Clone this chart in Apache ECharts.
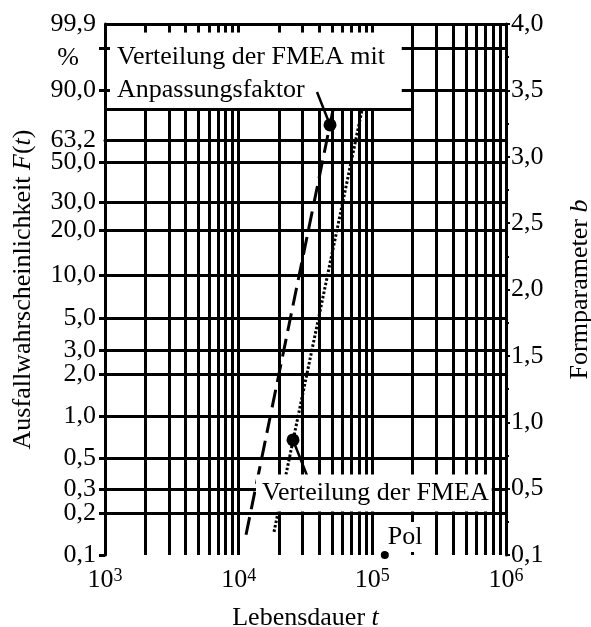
<!DOCTYPE html>
<html><head><meta charset="utf-8">
<script src="https://cdn.jsdelivr.net/npm/echarts@6/dist/echarts.min.js"></script>
<style>html,body{margin:0;padding:0;background:#fff}#c{width:591px;height:627px}</style>
</head><body><div id="c"></div>
<script>
// ---- data ----
const xDecades = [1e3, 1e4, 1e5, 1e6];
const xMultipliers = [1, 2, 3, 4, 5, 6, 7, 8, 9];
const yGridF = [0.2, 0.3, 0.5, 1, 2, 3, 5, 10, 20, 30, 50];
const yUpperGridF = [90, 99];
const yLabelF = [0.1, 0.2, 0.3, 0.5, 1, 2, 3, 5, 10, 20, 30, 50, 63.2, 90, 99.9, 98];
const yLabelText = ['0,1', '0,2', '0,3', '0,5', '1,0', '2,0', '3,0', '5,0', '10,0', '20,0', '30,0', '50,0', '63,2', '90,0', '99,9', '%'];
const yTickF = [0.1, 0.2, 0.3, 0.5, 1, 2, 3, 5, 10, 20, 30, 50, 90, 99];
const bLabels = ['0,1', '0,5', '1,0', '1,5', '2,0', '2,5', '3,0', '3,5', '4,0'];
const fmeaT = [18380, 83680];
const fmeaF = [0.147, 80.8];
const adjT = [11350, 50790];
const adjF = [0.14, 80.8];
const markT = [48240, 25500];
const markF = [72.4, 0.677];
const leader1T = [38550, 48240];
const leader1F = [89.2, 72.4];
const leader2T = [25500, 33010];
const leader2F = [0.677, 0.36];
const polT = [124000];
const polF = [0.1];
const charT = [1e3, 1e6];
const charF = [63.2, 63.2];
const boxF = 81;

// ---- helpers ----
const FONT = 'Liberation Serif';
const W = F => Math.log(-Math.log(1 - F / 100));   // Weibull probability scale
const T_MIN = 1e3, T_MAX = 1e6, F_MIN = 0.1, F_MAX = 99.9;
const BOX_T = 2e5, UPPER_START_T = 1.66e5, STUB_F = 99.75, STUB_T = 1090;

const xAll = [];
xDecades.slice(0, 3).forEach(d => xMultipliers.forEach(m => xAll.push(d * m)));
xAll.push(1e6);
const xGrid = xAll.filter(t => t > T_MIN && t < T_MAX);

const seg = (a, b) => [{ coord: a }, { coord: b }];
const gridSegs = [];
xGrid.forEach(t => {
  if (t < BOX_T) {
    gridSegs.push(seg([t, W(F_MIN)], [t, W(boxF)]));
    gridSegs.push(seg([t, W(F_MAX)], [t, W(STUB_F)]));
  } else {
    gridSegs.push(seg([t, W(F_MIN)], [t, W(F_MAX)]));
  }
});
yGridF.forEach(F => gridSegs.push(seg([T_MIN, W(F)], [T_MAX, W(F)])));
gridSegs.push(seg([T_MIN, W(boxF)], [BOX_T, W(boxF)]));
yUpperGridF.forEach(F => {
  gridSegs.push(seg([UPPER_START_T, W(F)], [T_MAX, W(F)]));
  gridSegs.push(seg([T_MIN, W(F)], [STUB_T, W(F)]));
});
gridSegs.push(seg([T_MIN, W(F_MAX)], [T_MAX, W(F_MAX)]));

const yLabelW = yLabelF.map(W);
function yLabel(v) {
  let best = 0;
  for (let i = 1; i < yLabelW.length; i++) if (Math.abs(yLabelW[i] - v) < Math.abs(yLabelW[best] - v)) best = i;
  const s = yLabelText[best];
  return s === '%' ? '{p|%}' : s;
}
const pts = (T, F) => T.map((t, i) => [t, W(F[i])]);

const txt = { fontFamily: FONT, fontSize: 26, color: '#000' };
const it = { fontFamily: FONT, fontSize: 26, color: '#000', fontStyle: 'italic' };
const lbl = o => Object.assign({}, txt, { opacity: 1, textBorderWidth: 0 }, o);

const chart = echarts.init(document.getElementById('c'), null, { renderer: 'canvas' });
chart.setOption({
  animation: false,
  backgroundColor: '#fff',
  grid: { left: 105, right: 85, top: 24, bottom: 72, containLabel: false, outerBoundsMode: 'none' },
  xAxis: {
    type: 'log', logBase: 10, min: T_MIN, max: T_MAX,
    name: 'Lebensdauer {i|t}', nameLocation: 'middle', nameGap: 50,
    nameTextStyle: Object.assign({}, txt, { rich: { i: it } }),
    axisLine: { show: true, lineStyle: { color: '#000', width: 3 } },
    axisTick: { show: true, inside: false, length: 7, customValues: xAll, lineStyle: { color: '#000', width: 3 } },
    minorTick: { show: false },
    axisLabel: {
      customValues: xDecades, margin: 12,
      formatter: v => '{b|10}{s|' + Math.round(Math.log10(v)) + '}',
      rich: {
        b: { fontFamily: FONT, fontSize: 26, color: '#000', lineHeight: 26 },
        s: { fontFamily: FONT, fontSize: 18, color: '#000', verticalAlign: 'top', lineHeight: 26 }
      }
    },
    splitLine: { show: false }
  },
  yAxis: [{
    type: 'value', position: 'left', min: W(F_MIN), max: W(F_MAX),
    name: 'Ausfallwahrscheinlichkeit {i|F}({i|t})', nameLocation: 'middle', nameGap: 69, nameRotate: 90,
    nameTextStyle: Object.assign({}, txt, { rich: { i: it } }),
    axisLine: { show: true, lineStyle: { color: '#000', width: 3 } },
    axisTick: { show: true, length: 6, customValues: yTickF.map(W), lineStyle: { color: '#000', width: 3 } },
    axisLabel: Object.assign({}, txt, {
      customValues: yLabelW, margin: 9, formatter: yLabel,
      rich: { p: { fontFamily: FONT, fontSize: 26, color: '#000', padding: [0, 17, 0, 0] } }
    }),
    splitLine: { show: false }
  }, {
    type: 'value', position: 'right', min: 0, max: 8, interval: 1,
    name: 'Formparameter {i|b}', nameLocation: 'middle', nameGap: 61, nameRotate: 90,
    nameTextStyle: Object.assign({}, txt, { rich: { i: it } }),
    axisLine: { show: true, lineStyle: { color: '#000', width: 3 } },
    axisTick: { show: true, length: 4, lineStyle: { color: '#000', width: 2 } },
    minorTick: { show: true, splitNumber: 2, length: 3, lineStyle: { color: '#000', width: 2 } },
    axisLabel: Object.assign({}, txt, { margin: 5, formatter: v => bLabels[Math.round(v)] }),
    splitLine: { show: false }
  }],
  series: [
    {
      name: 'grid', type: 'line', data: [], clip: false, silent: true, z: 1,
      markLine: {
        silent: true, animation: false, symbol: ['none', 'none'], label: { show: false },
        lineStyle: { color: '#000', width: 3, type: 'solid', opacity: 1 }, emphasis: { disabled: true },
        data: gridSegs
      }
    },
    {
      name: 'F = 63,2 %', type: 'line', z: 2, silent: true, clip: false,
      data: pts(charT, charF), showSymbol: false, symbol: 'none',
      lineStyle: { color: '#000', width: 2, type: [3, 3], opacity: 1 }
    },
    {
      name: 'Verteilung der FMEA mit Anpassungsfaktor', type: 'line', z: 3, silent: true,
      data: pts(adjT, adjF), showSymbol: false, symbol: 'none',
      lineStyle: { color: '#000', width: 3, type: [18, 8], opacity: 1 }
    },
    {
      name: 'Verteilung der FMEA', type: 'line', z: 3, silent: true,
      data: pts(fmeaT, fmeaF), showSymbol: false, symbol: 'none',
      lineStyle: { color: '#000', width: 3, type: [2.5, 2], opacity: 1 }
    },
    {
      name: 'leader', type: 'line', z: 4, silent: true, connectNulls: false,
      data: pts(leader1T, leader1F).concat(['-'], pts(leader2T, leader2F)),
      showSymbol: false, symbol: 'none', lineStyle: { color: '#000', width: 2.5, opacity: 1 }
    },
    {
      name: 'markers', type: 'scatter', z: 5, silent: true,
      data: pts(markT, markF), symbol: 'circle', symbolSize: 13, itemStyle: { color: '#000', opacity: 1 }
    },
    {
      name: 'Pol', type: 'scatter', z: 6, silent: true, clip: false,
      data: pts(polT, polF), symbol: 'circle', symbolSize: 8, itemStyle: { color: '#000', opacity: 1 },
      label: lbl({
        show: true, formatter: 'Pol', position: 'right', distance: 0, offset: [-2, -18],
        backgroundColor: '#fff', padding: [2, 1]
      })
    },
    {
      name: 'annotations', type: 'scatter', z: 7, silent: true, clip: false,
      symbolSize: 0, itemStyle: { color: '#000', opacity: 1 },
      data: [
        {
          value: [1230, W(95.17)],
          label: lbl({
            show: true, position: 'right', distance: 0, align: 'left',
            lineHeight: 33, formatter: 'Verteilung der FMEA mit\nAnpassungsfaktor'
          })
        },
        {
          value: [13480, W(0.2808)],
          label: lbl({
            show: true, position: 'right', distance: 0, align: 'left',
            lineHeight: 26, backgroundColor: '#fff', padding: [5, 3, 6, 6],
            formatter: 'Verteilung der FMEA'
          })
        }
      ]
    }
  ]
});
</script></body></html>
